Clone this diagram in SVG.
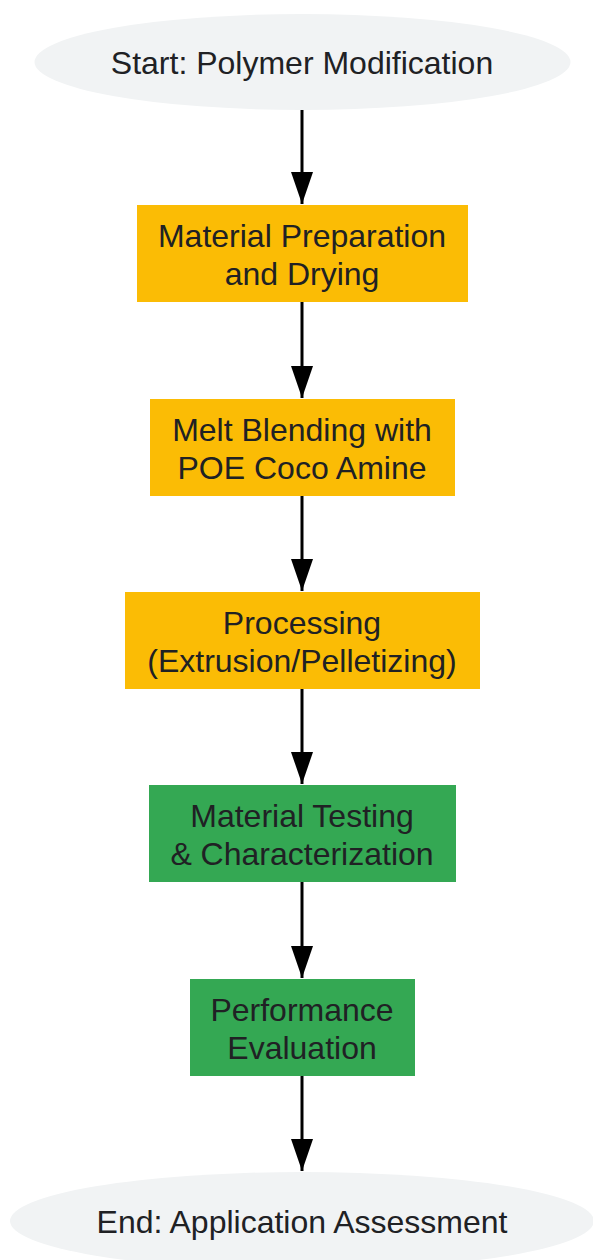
<svg xmlns="http://www.w3.org/2000/svg" width="593" height="1260" viewBox="0 0 593 1260">
<defs>
<style>
.t{font-family:"Liberation Sans",Arial,sans-serif;font-size:32px;fill:#202124;text-anchor:middle}
.term{fill:#F1F3F4}
.y{fill:#FBBC05}
.g{fill:#34A853}
.c{stroke:#000;stroke-width:3;fill:none;marker-end:url(#ah)}
</style>
<marker id="ah" viewBox="0 0 32 22" refX="32" refY="11" markerWidth="32" markerHeight="22" markerUnits="userSpaceOnUse" orient="auto">
<path d="M0,0 L32,11 L0,22 Z" fill="#000"/>
</marker>
</defs>
<rect width="593" height="1260" fill="#fff"/>
<g id="connectors">
<line class="c" x1="302" y1="110" x2="302" y2="204"/>
<line class="c" x1="302" y1="302" x2="302" y2="398"/>
<line class="c" x1="302" y1="496" x2="302" y2="591"/>
<line class="c" x1="302" y1="689" x2="302" y2="784"/>
<line class="c" x1="302" y1="882" x2="302" y2="978"/>
<line class="c" x1="302" y1="1076" x2="302" y2="1171"/>
</g>
<g id="start"><ellipse class="term" cx="302.5" cy="62" rx="268" ry="48"/><text class="t" x="302" y="74">Start: Polymer Modification</text></g>
<g id="prep"><rect class="y" x="137" y="205" width="331" height="97"/><text class="t" x="302" y="247">Material Preparation</text><text class="t" x="302" y="285">and Drying</text></g>
<g id="blend"><rect class="y" x="150" y="399" width="305" height="97"/><text class="t" x="302" y="441">Melt Blending with</text><text class="t" x="302" y="479">POE Coco Amine</text></g>
<g id="process"><rect class="y" x="125" y="592" width="355" height="97"/><text class="t" x="302" y="634">Processing</text><text class="t" x="302" y="672">(Extrusion/Pelletizing)</text></g>
<g id="testing"><rect class="g" x="149" y="785" width="307" height="97"/><text class="t" x="302" y="827">Material Testing</text><text class="t" x="302" y="865">&amp; Characterization</text></g>
<g id="perf"><rect class="g" x="190" y="979" width="225" height="97"/><text class="t" x="302" y="1021">Performance</text><text class="t" x="302" y="1059">Evaluation</text></g>
<g id="end"><ellipse class="term" cx="302" cy="1221" rx="292" ry="49"/><text class="t" x="302" y="1233">End: Application Assessment</text></g>
</svg>
